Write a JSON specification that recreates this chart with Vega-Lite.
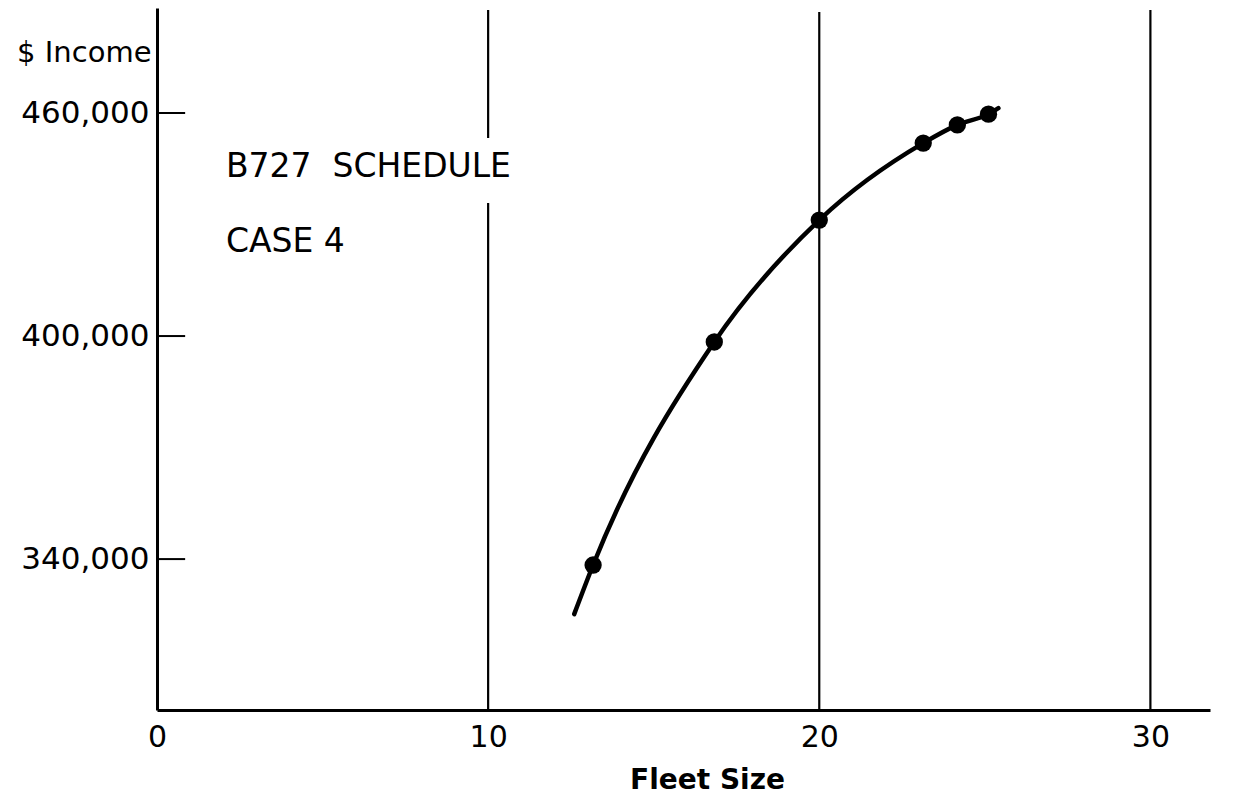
{
  "$schema": "https://vega.github.io/schema/vega-lite/v6.json",
  "width": 1053,
  "height": 702,
  "autosize": {"type": "none"},
  "padding": {"left": 157, "top": 8, "right": 31, "bottom": 93},
  "background": "white",
  "config": {
    "view": {"stroke": null},
    "font": "DejaVu Sans"
  },
  "datasets": {
    "grid": [
      {"x": 10, "y": 299400, "y2": 435785},
      {"x": 10, "y": 453274, "y2": 487713},
      {"x": 20, "y": 299400, "y2": 487175},
      {"x": 30, "y": 299400, "y2": 487713}
    ],
    "yticks": [
      {"x": 0, "x2": 0.85, "y": 340000},
      {"x": 0, "x2": 0.85, "y": 400000},
      {"x": 0, "x2": 0.85, "y": 460000}
    ],
    "curve": [
      {"x": 12.6, "y": 325200},
      {"x": 13.17, "y": 338400},
      {"x": 16.83, "y": 398400},
      {"x": 20.0, "y": 431200},
      {"x": 23.14, "y": 451900},
      {"x": 24.17, "y": 456800},
      {"x": 25.11, "y": 459700},
      {"x": 25.41, "y": 461300}
    ],
    "points": [
      {"x": 13.17, "y": 338400},
      {"x": 16.83, "y": 398400},
      {"x": 20.0, "y": 431200},
      {"x": 23.14, "y": 451900},
      {"x": 24.17, "y": 456800},
      {"x": 25.11, "y": 459700}
    ],
    "notes": [
      {"x": 2.08, "y": 445470, "label": "B727\u00a0\u00a0SCHEDULE"},
      {"x": 2.08, "y": 425290, "label": "CASE 4"}
    ]
  },
  "encoding": {
    "x": {
      "field": "x",
      "type": "quantitative",
      "scale": {"domain": [0, 31.8], "nice": false, "zero": false},
      "axis": {
        "values": [0, 10, 20, 30],
        "ticks": false,
        "grid": false,
        "domainColor": "black",
        "domainWidth": 3,
        "labelColor": "black",
        "labelFont": "DejaVu Sans",
        "labelFontSize": 30,
        "labelPadding": 12,
        "labelFlush": false,
        "title": "Fleet Size",
        "titleColor": "black",
        "titleFont": "DejaVu Sans",
        "titleFontSize": 28,
        "titleFontWeight": "bold",
        "titleX": 550,
        "titleY": 70,
        "titleBaseline": "middle",
        "titleAlign": "center"
      }
    },
    "y": {
      "field": "y",
      "type": "quantitative",
      "scale": {"domain": [299400, 488250], "nice": false, "zero": false},
      "axis": {
        "values": [340000, 400000, 460000],
        "format": ",d",
        "ticks": false,
        "grid": false,
        "domainColor": "black",
        "domainWidth": 3,
        "labelColor": "black",
        "labelFont": "DejaVu Sans",
        "labelFontSize": 31,
        "labelPadding": 8,
        "labelFlush": false,
        "title": "$ Income",
        "titleColor": "black",
        "titleFont": "DejaVu Sans",
        "titleFontSize": 29,
        "titleFontWeight": "normal",
        "titleAngle": 0,
        "titleAlign": "right",
        "titleBaseline": "middle",
        "titleX": -6,
        "titleY": 44
      }
    }
  },
  "layer": [
    {
      "data": {"name": "grid"},
      "mark": {"type": "rule", "color": "black", "strokeWidth": 2.2},
      "encoding": {"y2": {"field": "y2"}}
    },
    {
      "data": {"name": "yticks"},
      "mark": {"type": "rule", "color": "black", "strokeWidth": 2},
      "encoding": {"x2": {"field": "x2"}}
    },
    {
      "data": {"name": "curve"},
      "mark": {"type": "line", "color": "black", "strokeWidth": 4.5, "interpolate": "monotone", "strokeCap": "round"}
    },
    {
      "data": {"name": "points"},
      "mark": {"type": "point", "filled": true, "shape": "circle", "color": "black", "size": 300, "opacity": 1}
    },
    {
      "data": {"name": "notes"},
      "mark": {"type": "text", "align": "left", "baseline": "middle", "fontSize": 33, "font": "DejaVu Sans", "color": "black"},
      "encoding": {"text": {"field": "label"}}
    }
  ]
}
